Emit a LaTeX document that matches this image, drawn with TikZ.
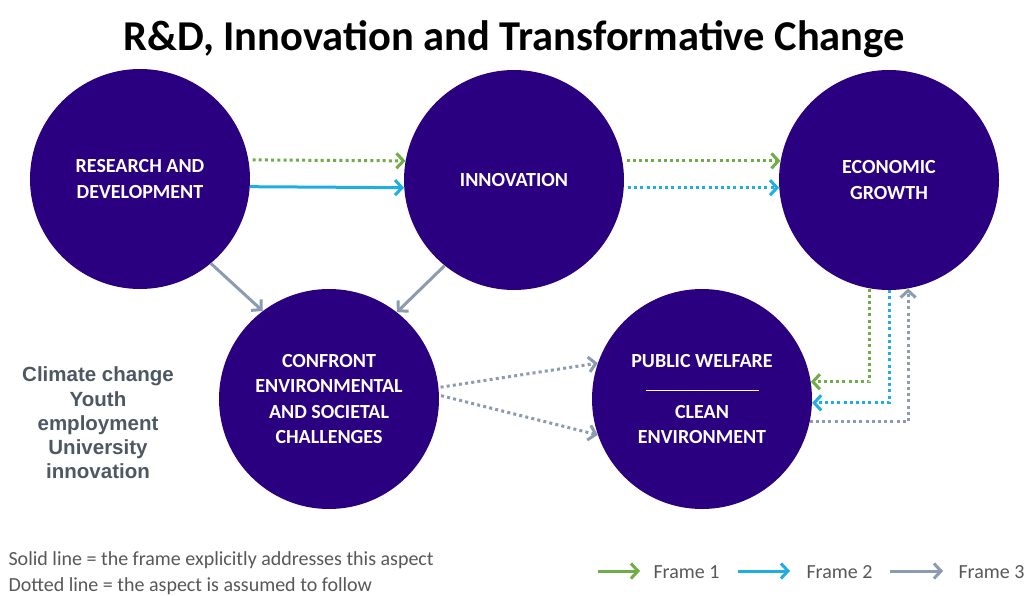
\documentclass[tikz,border=0pt]{standalone}
\usepackage{fontspec}
\setmainfont{Carlito}
\newfontfamily\sidefont{Liberation Sans}
\usetikzlibrary{arrows.meta}

\definecolor{circ}{RGB}{42,0,128}
\definecolor{fgreen}{RGB}{112,173,71}
\definecolor{fblue}{RGB}{30,174,228}
\definecolor{fgray}{RGB}{140,156,176}
\definecolor{sidetxt}{RGB}{78,88,100}
\definecolor{legtxt}{RGB}{88,88,88}

\begin{document}
\begin{tikzpicture}[x=1pt,y=-1pt,
  bubble/.style={circle, fill=circ, minimum size=220pt, inner sep=0pt,
    text=white, align=center,
    font=\fontsize{20}{25.5}\selectfont\bfseries},
  link/.style={line width=3pt,
    -{Straight Barb[length=7pt,width=15pt]}},
  dots/.style={dash pattern=on 3pt off 3.2pt},
  legend/.style={anchor=base west, text=legtxt,
    font=\fontsize{20}{22}\selectfont},
]
\useasboundingbox[fill=white] (0,0) rectangle (1025,595);

% title
\node[anchor=base] (title) at (514,50)
  {\fontsize{42.5}{44}\selectfont\bfseries R\&D, Innovation and Transformative Change};

% circles
\node[bubble] (rd)  at (140,179) {RESEARCH AND\\DEVELOPMENT};
\node[bubble] (inn) at (514,180) {INNOVATION};
\node[bubble] (eg)  at (889,180) {ECONOMIC\\GROWTH};
\node[bubble] (cf)  at (329,399) {CONFRONT\\ENVIRONMENTAL\\AND SOCIETAL\\CHALLENGES};
\node[bubble] (pw)  at (702,399)
  {PUBLIC WELFARE\\\rule[1.5pt]{113pt}{1.3pt}\\CLEAN\\ENVIRONMENT};

% side list
\node[align=center, text=sidetxt,
  font=\sidefont\bfseries\fontsize{20.5}{24.3}\selectfont] (side) at (98,423)
  {Climate change\\Youth\\employment\\University\\innovation};

% top row
\draw[link, dots, fgreen, shorten <=4pt] (rd.10) -- (inn.170);
\draw[link, fblue] (rd.-4) -- (inn.184);
\draw[link, dots, fgreen, shorten <=4pt] (inn.10) -- (eg.170);
\draw[link, dots, fblue, shorten <=4pt] (inn.-4) -- (eg.184);

% down to challenges
\draw[link, fgray] (rd.-50) -- (cf.127);
\draw[link, fgray] (inn.231) -- (cf.52);

% challenges to welfare
\draw[link, dots, fgray, shorten <=2pt] (cf.6) -- (pw.161);
\draw[link, dots, fgray, shorten <=2pt] (cf.2) -- (pw.199);

% growth and welfare
\draw[link, dots, fgreen] (eg.260) |- (pw.9);
\draw[link, dots, fblue] (eg.270) |- (pw.-2);
\draw[link, dots, fgray] (pw.-12) -| (eg.280);

% legend
\node[legend] (solidtxt) at (5,565)
  {Solid line = the frame explicitly addresses this aspect};
\node[legend] (dottxt) at (5,591)
  {Dotted line = the aspect is assumed to follow};

\coordinate (g0) at (598,571); \coordinate (g1) at (640,571);
\coordinate (b0) at (738,571); \coordinate (b1) at (790,571);
\coordinate (y0) at (890,571); \coordinate (y1) at (943,571);
\draw[link, fgreen] (g0) -- (g1);
\draw[link, fblue] (b0) -- (b1);
\draw[link, fgray] (y0) -- (y1);
\node[legend] (f1) at (650,578) {Frame 1};
\node[legend] (f2) at (803,578) {Frame 2};
\node[legend] (f3) at (955,578) {Frame 3};
\end{tikzpicture}
\end{document}
